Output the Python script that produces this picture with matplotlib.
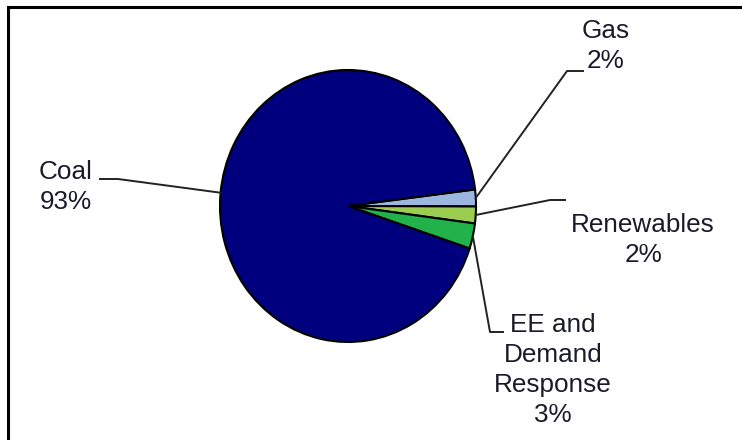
import matplotlib
matplotlib.use("Agg")
import matplotlib.pyplot as plt
import numpy as np
from matplotlib.patches import Rectangle

# Electricity resource mix
categories = ["Gas", "Renewables", "EE and\nDemand\nResponse", "Coal"]
shares = [2, 2, 3, 93]
colors = ["#9BB7E0", "#9ACD50", "#22B24C", "#00007F"]

W, H = 742, 440
fig = plt.figure(figsize=(W / 100, H / 100), dpi=100)
plt.rcParams["font.family"] = ["Liberation Sans", "DejaVu Sans"]

# pie axes (pixel box: x 220..476, y 70..342 from top)
left, right, top, bottom = 220, 476, 70, 342
ax = fig.add_axes([left / W, 1 - bottom / H, (right - left) / W, (bottom - top) / H])
wedges, _ = ax.pie(shares, colors=colors, startangle=7, counterclock=False,
                   radius=1.0, wedgeprops=dict(edgecolor="black", linewidth=1.5))
ax.set_aspect("auto")
ax.set_xlim(-1, 1)
ax.set_ylim(-1, 1)
ax.axis("off")

# frame around the chart area
fig.patches.append(Rectangle((8 / W, -0.1), 1.2, 1 - 7 / H + 0.1,
                             transform=fig.transFigure, fill=False,
                             edgecolor="black", linewidth=2.2))

pct_labels = [f"{v}%" for v in shares]
# label centres and leader bend/end points, in pixels from top-left
label_pos = [(606, 46), (643, 240), (553, 370), (66, 187)]
leaders = [
    [(567, 71), (583, 71)],
    [(550, 200), (565, 200)],
    [(490, 332), (503, 332)],
    [(118, 179), (100, 179)],
]

def px_to_fig(x, y):
    return x / W, 1 - y / H

for wedge, name, pct, (lx, ly), pts in zip(wedges, categories, pct_labels, label_pos, leaders):
    mid = np.deg2rad((wedge.theta1 + wedge.theta2) / 2)
    rim = ax.transData.transform((np.cos(mid), np.sin(mid)))
    rim_fig = fig.transFigure.inverted().transform(rim)
    xs = [rim_fig[0]] + [px_to_fig(*p)[0] for p in pts]
    ys = [rim_fig[1]] + [px_to_fig(*p)[1] for p in pts]
    fig.add_artist(plt.Line2D(xs, ys, transform=fig.transFigure,
                              color="#222222", linewidth=1.4))
    fx, fy = px_to_fig(lx, ly)
    fig.text(fx, fy, f"{name}\n{pct}", ha="center", va="center",
             fontsize=18.8, color="#1a1a2a", linespacing=1.3)

fig.savefig("out.png", dpi=100, facecolor="white")
